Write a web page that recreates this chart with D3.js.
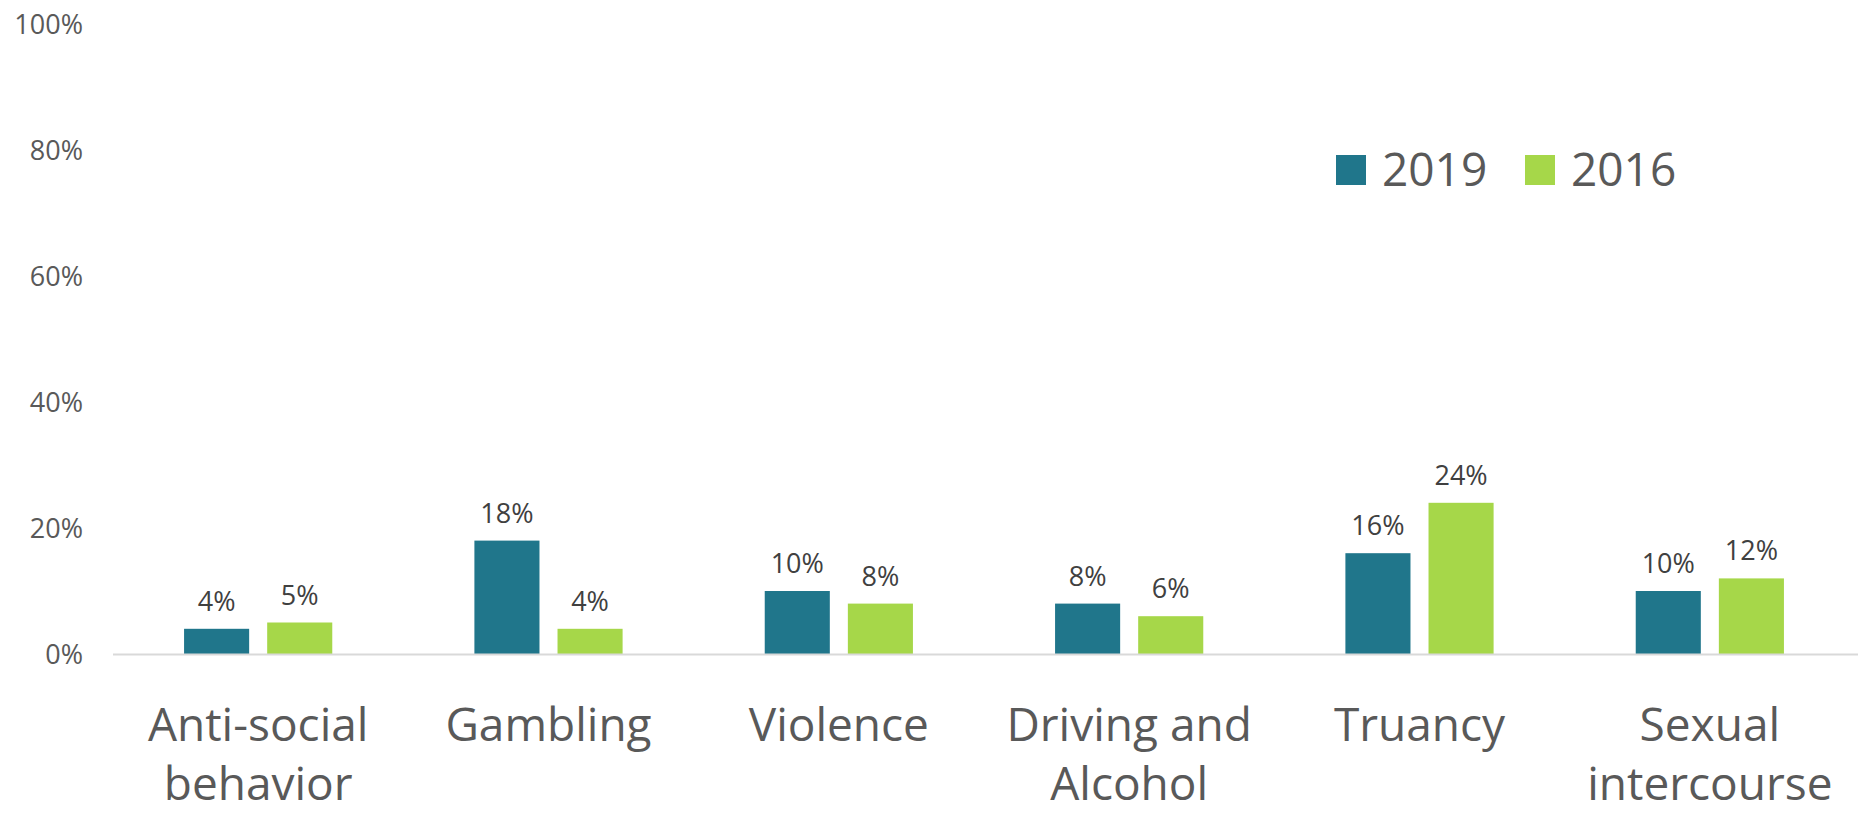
<!DOCTYPE html>
<html>
<head>
<meta charset="utf-8">
<script src="https://cdn.jsdelivr.net/npm/d3@7"></script>
<style>
  html, body { margin: 0; padding: 0; background: #ffffff; }
  svg { display: block; font-family: "Open Sans", "Noto Sans", sans-serif; }
</style>
</head>
<body>
<svg id="chart" width="1858" height="813"></svg>
<script>
// Share of respondents reporting each behaviour, by survey year
const categories = [
  ["Anti-social", "behavior"],
  ["Gambling"],
  ["Violence"],
  ["Driving and", "Alcohol"],
  ["Truancy"],
  ["Sexual", "intercourse"]
];
const seriesNames = ["2019", "2016"];
const values2019 = [4, 18, 10, 8, 16, 10];
const values2016 = [5, 4, 8, 6, 24, 12];
const yTicks = [0, 20, 40, 60, 80, 100];
const colors = ["#20768B", "#A6D749"];

const svg = d3.select("#chart");
const width = 1858, height = 813;
const plot = { left: 113, right: 1855, top: 24, bottom: 654 };

const catKeys = categories.map(c => c.join(" "));
const seriesValues = [values2019, values2016];

const x0 = d3.scaleBand()
  .domain(catKeys)
  .range([plot.left, plot.right])
  .padding(0);

const x1 = d3.scaleBand()
  .domain(seriesNames)
  .range([0, x0.bandwidth()])
  .paddingInner(0.217)
  .paddingOuter(0.855);

const y = d3.scaleLinear()
  .domain([0, 100])
  .range([plot.bottom, plot.top]);

// Y axis tick labels (no axis line, no gridlines)
const yAxis = d3.axisLeft(y)
  .tickValues(yTicks)
  .tickFormat(d => d + "%")
  .tickSize(0)
  .tickPadding(0);

const yG = svg.append("g")
  .attr("transform", "translate(83,0)")
  .call(yAxis);
yG.select(".domain").remove();
yG.selectAll("text")
  .attr("font-size", 27)
  .attr("fill", "#595959")
  .attr("font-family", "'Open Sans', 'Noto Sans', sans-serif")
  .attr("dy", "0.36em");

// Bars
const groups = svg.append("g").selectAll("g")
  .data(catKeys)
  .join("g")
  .attr("transform", d => `translate(${x0(d)},0)`);

groups.selectAll("rect")
  .data((d, i) => seriesNames.map((s, j) => ({ s, v: seriesValues[j][i], j })))
  .join("rect")
  .attr("x", d => x1(d.s))
  .attr("width", x1.bandwidth())
  .attr("y", d => y(d.v))
  .attr("height", d => y(0) - y(d.v))
  .attr("fill", d => colors[d.j]);

// Value labels above bars
groups.selectAll("text.value")
  .data((d, i) => seriesNames.map((s, j) => ({ s, v: seriesValues[j][i], j })))
  .join("text")
  .attr("class", "value")
  .attr("x", d => x1(d.s) + x1.bandwidth() / 2)
  .attr("y", d => y(d.v) - 18)
  .attr("text-anchor", "middle")
  .attr("font-size", 27)
  .attr("fill", "#404040")
  .text(d => d.v + "%");

// Baseline
svg.append("line")
  .attr("x1", plot.left)
  .attr("x2", width)
  .attr("y1", y(0) + 0.5)
  .attr("y2", y(0) + 0.5)
  .attr("stroke", "#D9D9D9")
  .attr("stroke-width", 2);

// Category labels, wrapped onto two lines where needed
const catG = svg.append("g");
categories.forEach((lines, i) => {
  const cx = x0(catKeys[i]) + x0.bandwidth() / 2;
  const t = catG.append("text")
    .attr("text-anchor", "middle")
    .attr("font-size", 46)
    .attr("fill", "#595959");
  lines.forEach((ln, k) => {
    t.append("tspan")
      .attr("x", cx)
      .attr("y", 741 + k * 59)
      .text(ln);
  });
});

// Legend
const legend = svg.append("g");
const legendX = [1336, 1525];
seriesNames.forEach((s, j) => {
  legend.append("rect")
    .attr("x", legendX[j])
    .attr("y", 155)
    .attr("width", 30)
    .attr("height", 30)
    .attr("fill", colors[j]);
  legend.append("text")
    .attr("x", legendX[j] + 46)
    .attr("y", 186)
    .attr("font-size", 46)
    .attr("fill", "#595959")
    .text(s);
});
</script>
</body>
</html>
